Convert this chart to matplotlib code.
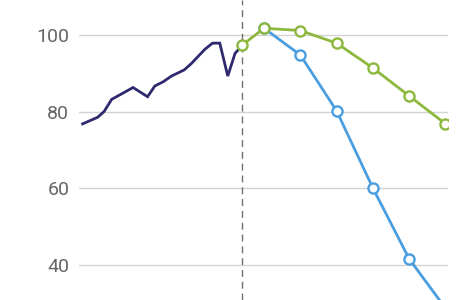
import matplotlib
matplotlib.use("Agg")
import matplotlib.pyplot as plt

# historical series (dark line)
hist_x = [2016.0, 2016.41, 2016.59, 2016.8, 2017.39, 2017.79, 2017.99, 2018.22,
          2018.45, 2018.8, 2019.0, 2019.37, 2019.58, 2019.78, 2020.0, 2020.2, 2020.4]
hist_y = [76.9, 78.6, 80.1, 83.3, 86.4, 84.0, 86.8, 87.9,
          89.4, 91.0, 92.7, 96.4, 98.0, 98.0, 89.4, 95.3, 97.5]

# projections
green_x = [2020.4, 2021, 2022, 2023, 2024, 2025, 2026]
green_y = [97.5, 101.9, 101.3, 98.0, 91.5, 84.2, 76.9]

blue_x = [2021, 2022, 2023, 2024, 2025, 2026]
blue_y = [101.9, 94.9, 80.3, 60.1, 41.6, 28.7]

yticks = [40, 60, 80, 100]
split_x = 2020.4

plt.rcParams['font.family'] = ['Roboto', 'DejaVu Sans']

fig = plt.figure(figsize=(4.7, 3.0), dpi=100)
ax = fig.add_axes([79 / 470, 0, (448 - 79) / 470, 1])

for t in yticks:
    ax.axhline(t, color='#d3d3d3', lw=1.0, zorder=1)

ax.axvline(split_x, color='#707070', lw=1.0, ls=(0, (5, 3.5)), zorder=2)

ax.plot(hist_x, hist_y, color='#2f2a6f', lw=2.0, zorder=3, solid_joinstyle='miter')
ax.plot(blue_x, blue_y, color='#4a9ee0', lw=2.0, marker='o', ms=7.3, mfc='white',
        mec='#4a9ee0', mew=1.7, zorder=4)
ax.plot(green_x, green_y, color='#8cb83e', lw=2.0, marker='o', ms=7.3, mfc='white',
        mec='#8cb83e', mew=1.7, zorder=5)

ax.set_xlim(2015.9, 2026.07)
ax.set_ylim(30.85, 109.28)
ax.set_yticks(yticks)
ax.set_xticks([])
ax.tick_params(axis='y', length=0, pad=7, labelsize=14, labelcolor='#666666')
for s in ax.spines.values():
    s.set_visible(False)

fig.savefig("out.png", dpi=100)
